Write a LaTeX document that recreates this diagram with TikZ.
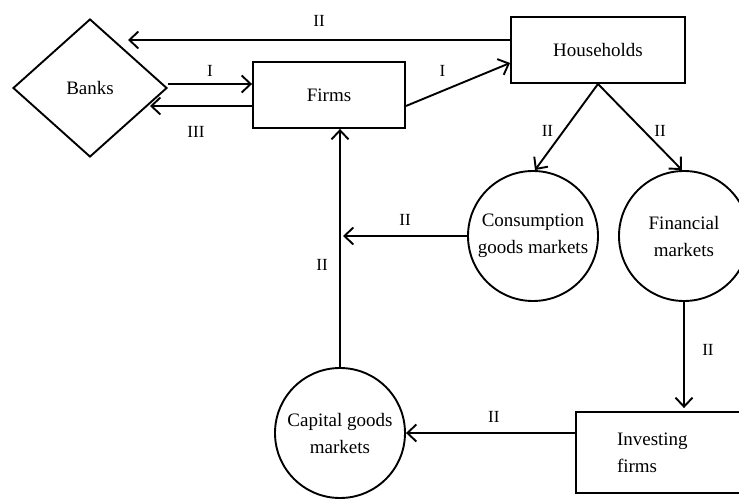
\documentclass[tikz,border=0pt]{standalone}
\usepackage{fontspec}
\setmainfont{Liberation Serif}
\usetikzlibrary{arrows.meta,shapes.geometric,calc}
\begin{document}
\begin{tikzpicture}[x=1pt,y=-1pt,
  every node/.style={font=\fontsize{19}{27}\selectfont},
  box/.style={draw,line width=1.9pt,rectangle,inner sep=0pt},
  mkt/.style={draw,line width=1.9pt,circle,inner sep=0pt,minimum size=130pt,align=center},
  bank/.style={draw,line width=1.9pt,diamond,inner sep=0pt,minimum width=154pt,minimum height=138pt},
  flow/.style={line width=1.9pt,-{Straight Barb[length=9pt,width=17pt,line width=1.9pt]}},
  lab/.style={font=\fontsize{17}{19}\selectfont}]
\useasboundingbox (0,0) rectangle (739,500);
\node[bank] (banks) at (90,88) {Banks};
\node[box,minimum width=152pt,minimum height=66pt] (firms) at (329,95) {Firms};
\node[box,minimum width=174pt,minimum height=66pt] (hh) at (598,50) {Households};
\node[mkt] (cons) at (533,236) {Consumption\\goods markets};
\node[mkt] (fin) at (684,236) {Financial\\markets};
\node[mkt] (cap) at (340,433) {Capital goods\\markets};
\node[box,minimum width=170pt,minimum height=81pt,text width=88pt,align=left] (inv) at (661,452.5) {Investing\\firms};
\coordinate (bk2) at (128,40);
\coordinate (bk3) at (150,106);
\coordinate (join) at (343,236);
% arrows
\draw[flow] ([yshift=10pt]hh.west) -- (bk2) node[lab,midway,above=9pt] {II};
\draw[flow] ([yshift=4pt]banks.east) -- ([yshift=11pt]firms.west) node[lab,midway,above=3pt] {I};
\draw[flow] ([yshift=-11pt]firms.west) -- (bk3) node[lab,pos=0.55,below=16pt] {III};
\draw[flow] ([yshift=-11pt]firms.east) -- ([yshift=-13pt]hh.west) node[lab,pos=0.35,above=10pt] {I};
\draw[flow] (hh.south) -- ([xshift=2pt]cons.north) node[lab,pos=0.55,left=6pt] {II};
\draw[flow] (hh.south) -- ([xshift=-2pt]fin.north) node[lab,pos=0.55,right=6pt] {II};
\draw[flow] (cons.west) -- (join) node[lab,pos=0.5,above=6pt] {II};
\draw[flow] (cap.north) -- (cap.north |- firms.south) node[lab,pos=0.43,left=8pt] {II};
\draw[flow] (fin.south) -- ([yshift=3pt]fin.south |- inv.north) node[lab,pos=0.45,right=14pt] {II};
\draw[flow] (cap.east -| inv.west) -- (cap.east) node[lab,pos=0.48,above=6pt] {II};
\end{tikzpicture}
\end{document}
